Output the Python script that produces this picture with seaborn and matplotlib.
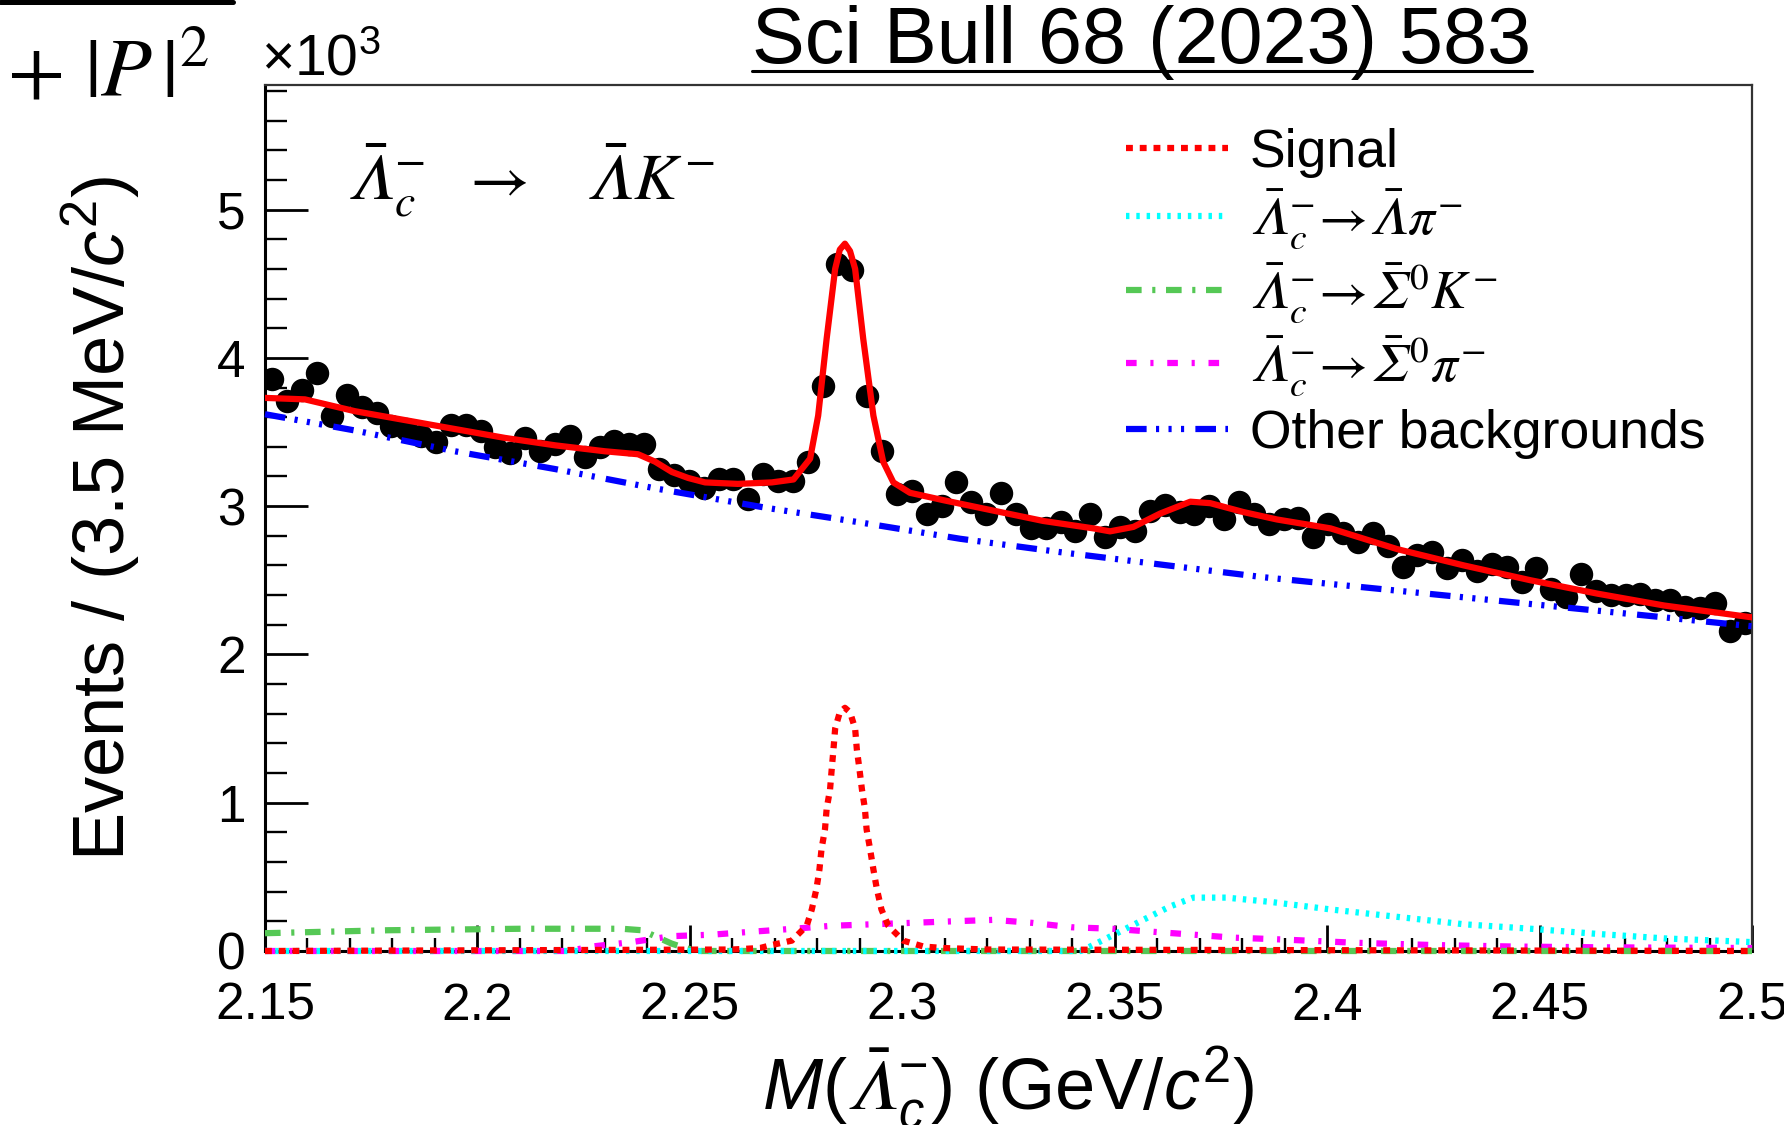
import numpy as np
import matplotlib
matplotlib.use("Agg")
import matplotlib.pyplot as plt
from matplotlib.lines import Line2D
from matplotlib.ticker import MultipleLocator, FuncFormatter
import seaborn as sns

# --- binning: 100 bins of 3.5 MeV between 2.15 and 2.50 GeV ---
m_lo, m_hi, n_bins = 2.15, 2.50, 100
bin_centers = m_lo + (np.arange(n_bins) + 0.5) * (m_hi - m_lo) / n_bins

# events per bin (x10^3)
events = [3.86, 3.71, 3.78, 3.90, 3.61, 3.75, 3.67, 3.63, 3.54, 3.52,
          3.47, 3.43, 3.55, 3.55, 3.51, 3.40, 3.36, 3.46, 3.37, 3.42,
          3.47, 3.33, 3.40, 3.44, 3.42, 3.42, 3.25, 3.21, 3.17, 3.12,
          3.18, 3.18, 3.05, 3.22, 3.17, 3.17, 3.30, 3.81, 4.63, 4.59,
          3.74, 3.37, 3.08, 3.10, 2.95, 3.00, 3.16, 3.03, 2.95, 3.09,
          2.95, 2.85, 2.85, 2.89, 2.83, 2.95, 2.79, 2.86, 2.83, 2.97,
          3.01, 2.96, 2.95, 3.00, 2.91, 3.03, 2.95, 2.88, 2.91, 2.92,
          2.79, 2.88, 2.82, 2.76, 2.82, 2.73, 2.59, 2.67, 2.69, 2.58,
          2.64, 2.56, 2.61, 2.59, 2.49, 2.58, 2.44, 2.39, 2.54, 2.43,
          2.40, 2.40, 2.41, 2.37, 2.37, 2.32, 2.31, 2.35, 2.16, 2.21]

# total fit
total_x = [2.1500, 2.1594, 2.1712, 2.1830, 2.1947, 2.2065, 2.2183, 2.2300, 2.2378,
           2.2418, 2.2458, 2.2496, 2.2536, 2.2613, 2.2693, 2.2744, 2.2783, 2.2802,
           2.2822, 2.2842, 2.2853, 2.2865, 2.2877, 2.2889, 2.2908, 2.2932, 2.2955,
           2.2979, 2.3018, 2.3097, 2.3214, 2.3332, 2.3450, 2.3489, 2.3544, 2.3607,
           2.3678, 2.3725, 2.3803, 2.3882, 2.4008, 2.4165, 2.4322, 2.4479, 2.4636,
           2.4793, 2.5000]
total_y = [3.73, 3.72, 3.64, 3.58, 3.52, 3.46, 3.41, 3.37, 3.35,
           3.30, 3.23, 3.19, 3.16, 3.15, 3.16, 3.18, 3.32, 3.61,
           4.13, 4.60, 4.73, 4.77, 4.72, 4.60, 4.13, 3.61, 3.30,
           3.16, 3.09, 3.04, 2.97, 2.90, 2.85, 2.83, 2.86, 2.95,
           3.03, 3.02, 2.96, 2.91, 2.85, 2.71, 2.60, 2.50, 2.41,
           2.33, 2.25]

# signal
sig_x = [2.1500, 2.2600, 2.2665, 2.2692, 2.2740, 2.2775, 2.2787, 2.2798, 2.2805,
         2.2810, 2.2818, 2.2822, 2.2830, 2.2834, 2.2838, 2.2842, 2.2853, 2.2865,
         2.2877, 2.2889, 2.2893, 2.2899, 2.2905, 2.2912, 2.2916, 2.2924, 2.2932,
         2.2940, 2.2951, 2.2967, 2.3002, 2.3050, 2.3097, 2.3200, 2.5000]
sig_y = [0.00, 0.01, 0.02, 0.04, 0.07, 0.17, 0.28, 0.42, 0.55,
         0.69, 0.82, 0.96, 1.09, 1.23, 1.36, 1.50, 1.61, 1.64,
         1.61, 1.50, 1.36, 1.23, 1.09, 0.96, 0.82, 0.69, 0.55,
         0.42, 0.28, 0.17, 0.07, 0.03, 0.02, 0.01, 0.00]

# Lambda pi background
lpi_x = [2.1500, 2.3420, 2.3442, 2.3512, 2.3567, 2.3630, 2.3685, 2.3763, 2.3870,
         2.4009, 2.4166, 2.4323, 2.4480, 2.4637, 2.4794, 2.5000]
lpi_y = [0.00, 0.00, 0.03, 0.13, 0.21, 0.30, 0.36, 0.36, 0.33,
         0.28, 0.23, 0.18, 0.15, 0.115, 0.085, 0.06]

# Sigma0 K background
sk_x = [2.1500, 2.1790, 2.2104, 2.2340, 2.2387, 2.2418, 2.2457, 2.2489, 2.2520, 2.5000]
sk_y = [0.12, 0.14, 0.15, 0.15, 0.14, 0.10, 0.05, 0.02, 0.00, 0.00]

# Sigma0 pi background
spi_x = [2.1500, 2.2214, 2.2269, 2.2363, 2.2457, 2.2551, 2.2646, 2.2744, 2.2834,
         2.2928, 2.3023, 2.3117, 2.3215, 2.3305, 2.3399, 2.3494, 2.3588, 2.3686,
         2.3780, 2.3874, 2.4063, 2.4252, 2.4440, 2.4637, 2.5000]
spi_y = [0.00, 0.00, 0.03, 0.06, 0.10, 0.11, 0.13, 0.15, 0.17,
         0.18, 0.19, 0.20, 0.21, 0.19, 0.16, 0.15, 0.13, 0.11,
         0.09, 0.08, 0.056, 0.04, 0.03, 0.025, 0.02]

# other backgrounds
bkg_x = [2.1500, 2.1712, 2.1947, 2.2183, 2.2418, 2.2677, 2.2901, 2.3136, 2.3371,
         2.3852, 2.4165, 2.4479, 2.4793, 2.5000]
bkg_y = [3.62, 3.51, 3.37, 3.25, 3.12, 2.99, 2.89, 2.78, 2.69,
         2.52, 2.43, 2.34, 2.25, 2.19]

LAM = "\U0001D6EC"   # italic capital lambda
SIG = "\U0001D6F4"   # italic capital sigma
lab_sig = "Signal"
lab_lpi = rf"$\bar{{{LAM}}}_c^{{-}}\!\rightarrow\!\bar{{{LAM}}}\pi^{{-}}$"
lab_sk = rf"$\bar{{{LAM}}}_c^{{-}}\!\rightarrow\!\bar{{{SIG}}}^0K^{{-}}$"
lab_spi = rf"$\bar{{{LAM}}}_c^{{-}}\!\rightarrow\!\bar{{{SIG}}}^0\pi^{{-}}$"
lab_bkg = "Other backgrounds"

sns.set_style("white")
plt.rcParams["font.family"] = ["Liberation Sans", "DejaVu Sans"]
plt.rcParams["mathtext.fontset"] = "custom"
plt.rcParams["mathtext.rm"] = "Liberation Sans"
plt.rcParams["mathtext.it"] = "Liberation Sans:italic"
plt.rcParams["mathtext.bf"] = "Liberation Sans:bold"
plt.rcParams["mathtext.fallback"] = "stix"
for k in ["text.color", "axes.labelcolor", "xtick.color", "ytick.color", "axes.edgecolor"]:
    plt.rcParams[k] = "black"

W, H = 1784, 1125
fig = plt.figure(figsize=(W / 100, H / 100), dpi=100)
ax = fig.add_axes([265 / W, 1 - 951 / H, (1752 - 265) / W, (951 - 85) / H])

lw = 4.5
sns.scatterplot(x=bin_centers, y=events, color="black", s=285, linewidth=0,
                ax=ax, zorder=2)

curves = [
    (bkg_x, bkg_y, "#0000ff", (0, (3.3, 1.5, 0.5, 1.5, 0.5, 1.5, 0.5, 1.8)), lab_bkg),
    (spi_x, spi_y, "#ff00ff", (0, (1.7, 2.2, 0.5, 2.2)), lab_spi),
    (sk_x, sk_y, "#55c855", (0, (2.5, 1.7, 0.5, 1.7)), lab_sk),
    (lpi_x, lpi_y, "#00ffff", (0, (0.55, 1.1)), lab_lpi),
    (sig_x, sig_y, "#ff0000", (0, (1.1, 1.1)), lab_sig),
]
handles = {}
for cx, cy, col, ls, lab in curves:
    sns.lineplot(x=cx, y=cy, color=col, linestyle=ls, lw=lw, ax=ax,
                 estimator=None, sort=False, zorder=3, clip_on=False)
    handles[lab] = ax.lines[-1]

sns.lineplot(x=total_x, y=total_y, color="#ff0000", lw=lw, ax=ax,
             estimator=None, sort=False, zorder=4)

ax.set_xlim(2.15, 2.50)
ax.set_ylim(0, 5.84)

ax.xaxis.set_major_locator(MultipleLocator(0.05))
ax.xaxis.set_minor_locator(MultipleLocator(0.01))
ax.yaxis.set_major_locator(MultipleLocator(1))
ax.yaxis.set_minor_locator(MultipleLocator(0.2))
ax.xaxis.set_major_formatter(FuncFormatter(lambda v, p: f"{v:g}"))
ax.yaxis.set_major_formatter(FuncFormatter(lambda v, p: f"{v:g}"))

ax.tick_params(axis="x", which="major", direction="in", length=19, width=2.0,
               labelsize=37, pad=22, bottom=True, top=False)
ax.tick_params(axis="x", which="minor", direction="in", length=9.5, width=1.7,
               bottom=True, top=False)
ax.tick_params(axis="y", which="major", direction="in", length=31, width=2.0,
               labelsize=37, pad=14, left=True, right=False)
ax.tick_params(axis="y", which="minor", direction="in", length=15.5, width=1.7,
               left=True, right=False)
for s in ["left", "bottom"]:
    ax.spines[s].set_linewidth(2.2)
for s in ["top", "right"]:
    ax.spines[s].set_linewidth(1.6)
    ax.spines[s].set_color("#333333")

ax.set_xlabel(rf"$M(\bar{{{LAM}}}_c^{{-}})$ (GeV/$c^2$)", fontsize=52)
ax.xaxis.set_label_coords(0.5, -0.108)
ax.set_ylabel(r"Events / (3.5 MeV/$c^2$)", fontsize=52)
ax.yaxis.set_label_coords(-0.083, 0.5)

order = [lab_sig, lab_lpi, lab_sk, lab_spi, lab_bkg]
leg = ax.legend([handles[k] for k in order], order, loc="upper left",
                bbox_to_anchor=(1126 / W, 1 - 128 / H), bbox_transform=fig.transFigure,
                frameon=False, fontsize=38.5, handlelength=1.9, handletextpad=0.42,
                labelspacing=0.19, borderpad=0, borderaxespad=0)
for t in leg.get_texts():
    t.set_math_fontfamily("stix")

# decay label inside the frame
fig.text(347 / W, 1 - 199 / H,
         rf"$\bar{{{LAM}}}_c^{{-}}\ \ \rightarrow\ \ \ \bar{{{LAM}}}K^{{-}}$",
         fontsize=47, math_fontfamily="stix")

# axis multiplier
fig.text(261 / W, 1 - 76 / H, r"$\times$10$^{3}$", fontsize=41)

# leftover of a formula from the slide
fig.text(7 / W, 1 - 97 / H, r"$+\ |P\,|^2$", fontsize=60, math_fontfamily="stix")
fig.add_artist(Line2D([0, 233 / W], [1 - 2 / H] * 2, lw=3.6, color="black",
                      transform=fig.transFigure))

# reference, underlined
ref = fig.text(1142 / W, 1 - 63 / H, "Sci Bull 68 (2023) 583", ha="center",
               va="baseline", fontsize=57)
fig.canvas.draw()
bb = ref.get_window_extent().transformed(fig.transFigure.inverted())
fig.add_artist(Line2D([bb.x0, bb.x1], [1 - 71 / H] * 2, lw=2.2, color="black",
                      transform=fig.transFigure))

fig.savefig("out.png", dpi=100)
